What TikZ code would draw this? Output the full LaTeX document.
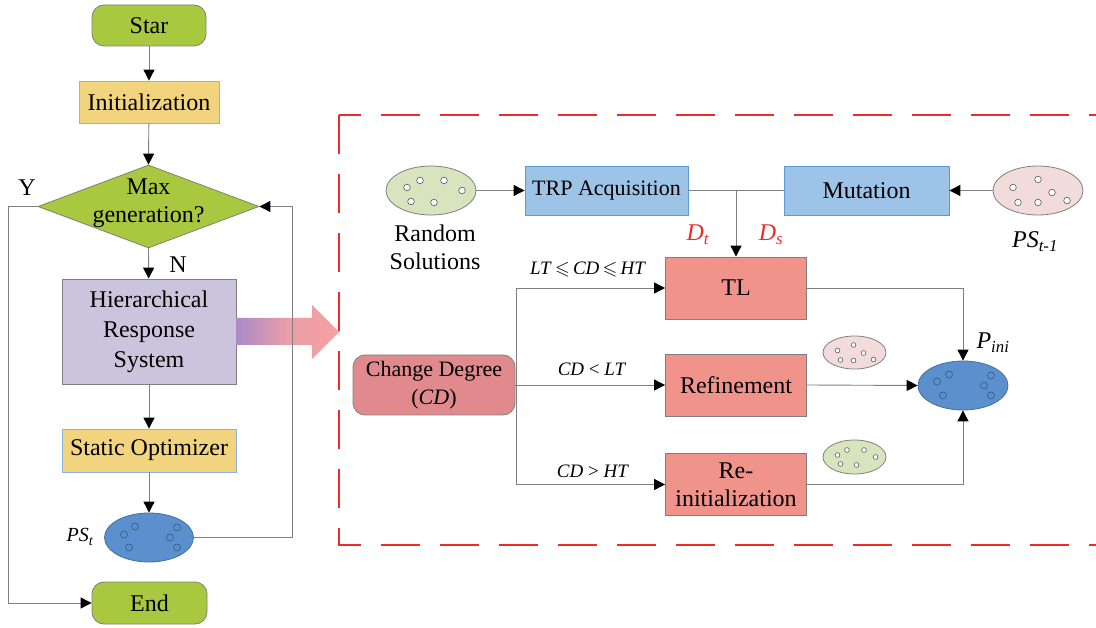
\documentclass[tikz,border=0pt]{standalone}
\usepackage{fontspec}
\setmainfont{Liberation Serif}
\usepackage{amssymb}
\usetikzlibrary{arrows.meta,shapes.geometric}
\definecolor{gfill}{HTML}{A8C83F}
\definecolor{yfill}{HTML}{F2D47E}
\definecolor{yborder}{HTML}{8DB3E2}
\definecolor{lavfill}{HTML}{CCC3DC}
\definecolor{bfill}{HTML}{9DC3E6}
\definecolor{bborder}{HTML}{5B9BD5}
\definecolor{sfill}{HTML}{F0938A}
\definecolor{cdfill}{HTML}{E08A8D}
\definecolor{pinkell}{HTML}{F2DCDB}
\definecolor{greenell}{HTML}{D7E4BD}
\definecolor{blueell}{HTML}{5B8FCD}
\definecolor{blueborder}{HTML}{41719C}
\definecolor{lineg}{HTML}{7F7F7F}
\definecolor{dashred}{HTML}{EE2A2A}
\definecolor{arrpurple}{HTML}{A88BC8}
\definecolor{arrpink}{HTML}{F5A1A2}
\begin{document}
\begin{tikzpicture}[x=1pt,y=-1pt,
  every node/.style={font=\fontsize{24}{30}\selectfont},
  base/.style={draw=lineg, line width=0.8pt, inner sep=0pt, align=center},
  term/.style={base, fill=gfill, rounded corners=12pt},
  ybox/.style={base, fill=yfill, draw=yborder},
  bbox/.style={base, fill=bfill, draw=bborder},
  sbox/.style={base, fill=sfill, minimum width=141pt, minimum height=62pt},
  ell/.style={ellipse, draw=lineg, line width=0.8pt, inner sep=0pt},
  dot/.style={draw=lineg!70!black, fill=white, line width=0.6pt},
  bdot/.style={draw=blueborder!80!black, line width=0.6pt},
  conn/.style={draw=lineg, line width=0.9pt},
  arr/.style={conn, -{Triangle[length=11pt,width=11pt,color=black]}},
  lbl/.style={font=\fontsize{19}{22}\selectfont}
]
\useasboundingbox (0,0) rectangle (1096,628);

% ---------- left flowchart ----------
\node[term, minimum width=114pt, minimum height=41pt] (star) at (149,25.5) {Star};
\node[ybox, minimum width=140pt, minimum height=42pt] (init) at (149,102) {Initialization};
\node[diamond, draw=lineg, line width=0.8pt, fill=gfill, minimum width=221pt, minimum height=83pt, inner sep=0pt] (dia) at (148.5,206.5) {};
\node[align=center, font=\fontsize{24}{28}\selectfont] (diatext) at (148.5,203) {Max\\generation?};
\node[base, fill=lavfill, minimum width=174pt, minimum height=105pt] (hrs) at (149,331.5) {Hierarchical\\Response\\System};
\node[ybox, minimum width=174pt, minimum height=43pt] (stat) at (149,450.5) {Static Optimizer};
\node[ell, fill=blueell, draw=blueborder, minimum width=89pt, minimum height=49pt] (pst) at (149,537.5) {};
\node[term, minimum width=115pt, minimum height=42pt] (end) at (149.5,603) {End};

\node (ylbl) at (27,188) {Y};
\node (nlbl) at (178,265) {N};
\node (pstlbl) at (80,537) {\fontsize{20}{24}\selectfont\textit{PS}\textsubscript{\textit{t}}};

\foreach \dx/\dy in {-25/-3,-14/-11,-20/10,28/-10,21/0,28/10}
  \draw[bdot, shift={(pst.center)}] (\dx,\dy) circle[radius=3.5pt];

% fat gradient arrow
\shade[left color=arrpurple, right color=arrpink, middle color=arrpink!85!arrpurple]
  (236,318) -- (312,318) -- (312,305) -- (339,332) -- (312,359) -- (312,345) -- (236,345) -- cycle;

\coordinate (loopr) at (292,537.5);
\coordinate (loopt) at (292,206.5);
\coordinate (leftt) at (8,206.5);
\coordinate (leftb) at (8,603);

\draw[arr] (star) -- (init);
\draw[arr] (init) -- (dia.north);
\draw[arr] (dia.south) -- (hrs);
\draw[arr] (hrs) -- (stat);
\draw[arr] (stat) -- (pst);
\draw[arr] (pst.east) -- (loopr) -- (loopt) -- (dia.east);
\draw[arr] (dia.west) -- (leftt) -- (leftb) -- (end.west);

% ---------- dashed frame ----------
\draw[dashred, line width=2.2pt, dash pattern=on 39pt off 20pt, dash phase=17pt] (339,115) -- (1110,115);
\draw[dashred, line width=2.2pt, dash pattern=on 39pt off 20pt] (339,115) -- (339,545) -- (1110,545);

% ---------- right part ----------
\node[ell, fill=greenell, minimum width=90pt, minimum height=49pt] (rs) at (431,190.5) {};
\node[align=center, font=\fontsize{24}{28}\selectfont] (rslbl) at (435,247) {Random\\Solutions};
\foreach \dx/\dy in {-24/-3,-11/-10,13/-10,31/0,-20/11,3/12}
  \draw[dot, shift={(rs.center)}] (\dx,\dy) circle[radius=3.3pt];

\node[bbox, minimum width=163pt, minimum height=49pt, font=\fontsize{22}{26}\selectfont] (trp) at (606.5,190.5) {TRP Acquisition};
\node[bbox, minimum width=165pt, minimum height=49pt] (mut) at (866.5,190.5) {Mutation};

\node[ell, fill=pinkell, minimum width=90pt, minimum height=49pt] (ps1) at (1038,190.5) {};
\node (ps1lbl) at (1035,242) {\textit{PS}\textsubscript{\textit{t-1}}};
\foreach \dx/\dy in {-25/-3,0/-11,14/2,-20/12,0/12,29/10}
  \draw[dot, shift={(ps1.center)}] (\dx,\dy) circle[radius=3.3pt];

\node[sbox] (tl) at (736,288) {TL};
\node[sbox] (ref) at (736,385) {Refinement};
\node[sbox, font=\fontsize{24}{28}\selectfont] (re) at (736,484.5) {Re-\\initialization};
\node[base, fill=cdfill, rounded corners=12pt, minimum width=162pt, minimum height=60pt, font=\fontsize{22}{28}\selectfont] (cd) at (434,385) {Change Degree\\(\textit{CD})};

\node[ell, fill=blueell, draw=blueborder, minimum width=90pt, minimum height=49pt] (pini) at (963,385.5) {};
\node[anchor=west] (pinilbl) at (973,343) {\textit{P}\textsubscript{\textit{ini}}};
\foreach \dx/\dy in {-26/-4,-14/-11,-20/10,28/-10,21/0,28/10}
  \draw[bdot, shift={(pini.center)}] (\dx,\dy) circle[radius=3.5pt];

\node[ell, fill=pinkell, minimum width=63pt, minimum height=33pt] (sp) at (854.5,352.5) {};
\foreach \dx/\dy in {-17/-2,-1/-7.5,9/0.5,-14/7.5,-1/8,19/7}
  \draw[dot, shift={(sp.center)}] (\dx,\dy) circle[radius=2.4pt];
\node[ell, fill=greenell, minimum width=63pt, minimum height=34pt] (sg) at (854.5,457) {};
\foreach \dx/\dy in {-17/-2,-7.5/-7,9.5/-7,21/0,-14/7,2/8}
  \draw[dot, shift={(sg.center)}] (\dx,\dy) circle[radius=2.4pt];

\node[text=dashred] (dt) at (698,235) {\textit{D}\textsubscript{\textit{t}}};
\node[text=dashred] (ds) at (771,235) {\textit{D}\textsubscript{\textit{s}}};

\node[lbl] (l1) at (588,270) {\textit{LT}\,$\leqslant$\,\textit{CD}\,$\leqslant$\,\textit{HT}};
\node[lbl] (l2) at (592,369) {\textit{CD} < \textit{LT}};
\node[lbl] (l3) at (593,471) {\textit{CD} > \textit{HT}};

\coordinate (junc) at (736,190.5);
\coordinate (tlr) at (963,288);
\coordinate (rer) at (963,484.5);

\draw[arr] (rs) -- (trp);
\draw[arr] (ps1) -- (mut);
\draw[conn] (trp) -- (mut);
\draw[arr] (junc) -- (tl);
\draw[arr] (cd.east) -- (ref.west);
\draw[arr] (cd.east) -| ++(1,0) |- (tl.west);
\draw[arr] (cd.east) -| ++(1,0) |- (re.west);
\draw[arr] (tl.east) -- (tlr) -- (pini.north);
\draw[arr] (ref.east) -- (pini.west);
\draw[arr] (re.east) -- (rer) -- (pini.south);
\end{tikzpicture}
\end{document}
